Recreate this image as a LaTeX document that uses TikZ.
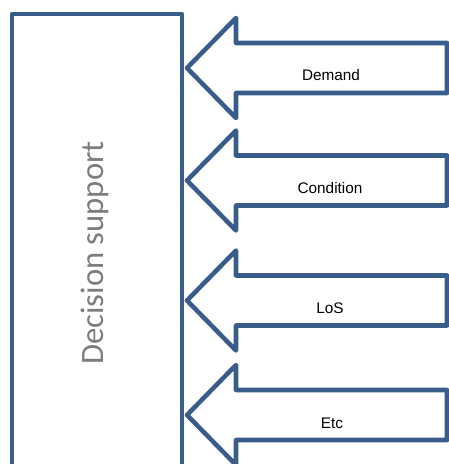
\documentclass[tikz,border=0pt]{standalone}
\usepackage{fontspec}
\newfontfamily\labelfont{Liberation Sans}
\newfontfamily\sidefont{Carlito}
\definecolor{boxblue}{RGB}{56,93,138}
\definecolor{sidegray}{RGB}{125,125,125}

\tikzset{every picture/.style={line width=0.75pt}}
\tikzset{
  bluebox/.style={draw=boxblue, line width=3.4pt, line join=round, fill=white},
  inlabel/.style={font=\labelfont\fontsize{11.5}{13}\selectfont, text=black},
  sidelabel/.style={font=\sidefont\fontsize{24.5}{28}\selectfont, text=sidegray}
}

\begin{document}
\begin{tikzpicture}[x=0.75pt,y=0.75pt,yscale=-1,xscale=1]
	\useasboundingbox (0,0) rectangle (449,464);
	\clip (0,0) rectangle (449,464);

	%Shape: Rectangle (open at the bottom, runs off the page)
	\draw [bluebox, fill=none]  (12,480) -- (12,14) -- (182,14) -- (182,480) ;

	%Shape: Left Arrow
	\draw [bluebox]  (187,68) -- (236,18) -- (236,43) -- (447,43) -- (447,93) -- (236,93) -- (236,118) -- cycle ;
	%Shape: Left Arrow
	\draw [bluebox]  (187,180.5) -- (236,130.5) -- (236,155.5) -- (447,155.5) -- (447,205.5) -- (236,205.5) -- (236,230.5) -- cycle ;
	%Shape: Left Arrow
	\draw [bluebox]  (187,300.5) -- (236,250.5) -- (236,275.5) -- (447,275.5) -- (447,325.5) -- (236,325.5) -- (236,350.5) -- cycle ;
	%Shape: Left Arrow
	\draw [bluebox]  (187,415) -- (236,365) -- (236,390) -- (447,390) -- (447,440) -- (236,440) -- (236,465) -- cycle ;

	% Text Node
	\draw (103,253) node [sidelabel, rotate=90, anchor=base] (decision) {Decision support};
	% Text Node
	\draw (331,75.5) node [inlabel] (demand) {Demand};
	% Text Node
	\draw (330,188) node [inlabel] (condition) {Condition};
	% Text Node
	\draw (330,308) node [inlabel] (los) {LoS};
	% Text Node
	\draw (332,423) node [inlabel] (etc) {Etc};

\end{tikzpicture}
\end{document}
